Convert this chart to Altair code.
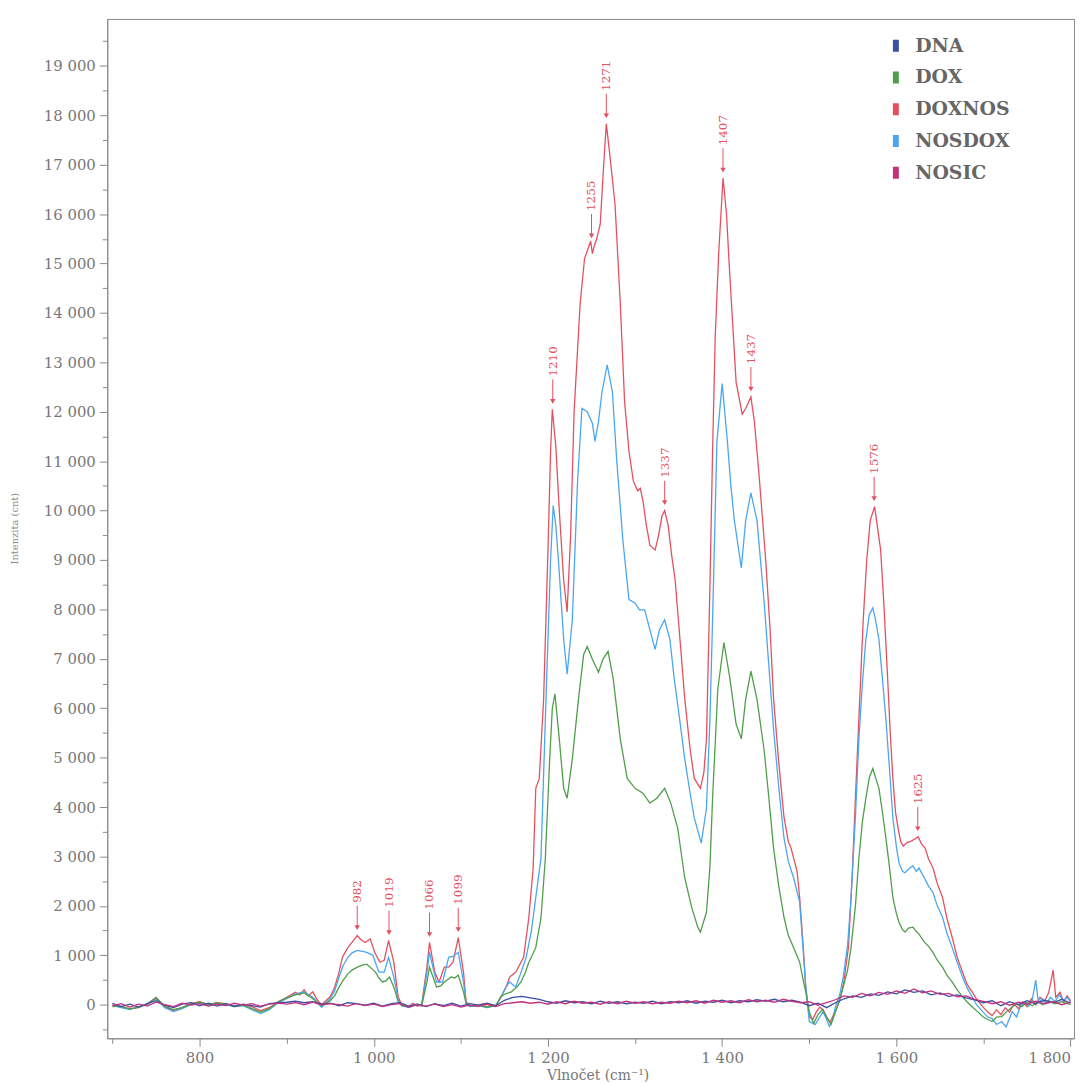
import altair as alt
import pandas as pd

# ---------------- data ----------------
DOXNOS = [(700,0),(710,-50),(720,-80),(730,-60),(740,20),(750,150),(760,-40),(770,-120),(780,-60),(790,20),(800,60),(810,0),(820,40),(830,20),(840,-20),(850,0),(860,-40),(870,-120),(880,-60),(890,60),(900,150),(910,250),(915,200),(920,300),(925,180),(930,260),(935,100),(940,0),(945,80),
(950,160),(955,350),(960,650),(964,960),(970,1150),(975,1260),(981,1400),(985,1320),(990,1260),(996,1330),(1001,1060),(1007,860),(1012,900),(1017,1300),(1023,860),(1028,160),(1032,0),(1040,-40),(1045,30),(1050,-30),(1055,0),(1061,760),(1064,1260),(1070,660),(1075,460),(1081,760),(1086,760),(1091,860),(1097,1360),(1103,660),(1106,60),(1110,-20),(1120,-40),(1125,20),(1130,-50),(1135,0),(1140,-30),(1146,160),(1152,360),(1156,560),(1163,660),(1172,960),(1178,1760),(1183,2760),(1186,4380),(1190,4580),(1195,6180),(1200,9200),(1203,11200),(1205,12050),(1209,11300),(1213,10000),(1218,8600),(1222,7950),(1226,9500),(1230,12000),(1237,14200),(1242,15100),(1246,15300),(1249,15450),(1251,15200),(1253,15350),(1256,15500),(1260,15800),(1264,17000),(1267,17830),(1271,17200),(1277,16200),(1283,14200),(1288,12200),(1293,11200),(1298,10600),(1303,10400),(1306,10450),(1309,10200),(1313,9700),(1317,9300),(1323,9200),(1327,9500),(1331,9900),(1334,10000),(1338,9700),(1342,9100),(1346,8600),(1352,7300),(1357,6200),(1363,5200),(1368,4580),(1375,4380),(1379,4700),(1382,5380),(1386,8500),(1389,11200),(1392,13500),(1396,15200),(1401,16730),(1405,16000),(1408,15000),(1412,13800),(1416,12600),(1423,11950),(1428,12100),(1433,12300),(1437,11800),(1442,10800),(1446,9900),(1450,9000),(1455,7600),(1459,6200),(1465,4900),(1471,3800),(1476,3300),(1479,3170),(1482,2970),(1486,2700),(1489,2170),(1493,1200),(1496,360),(1500,-240),(1504,-300),(1508,-150),(1512,-50),(1516,-100),(1520,-250),(1524,-350),(1528,-200),(1532,-50),(1536,150),(1540,500),(1545,1160),(1549,2500),(1553,4180),(1557,5800),(1562,7800),(1566,9000),(1570,9800),(1575,10080),(1578,9700),(1582,9200),(1586,8000),(1590,6600),(1593,5500),(1596,4580),(1599,3900),(1602,3570),(1605,3300),(1608,3210),(1612,3280),(1617,3310),(1621,3350),(1625,3400),(1629,3250),(1633,3170),(1637,2950),(1642,2770),(1647,2450),(1653,2170),(1658,1750),(1664,1370),(1670,950),(1676,660),(1681,420),(1687,260),(1692,120),(1699,-40),(1705,-150),(1710,-220),(1715,-100),(1720,-200),(1725,-60),(1730,-150),(1735,20),(1740,-80),(1745,60),(1750,-40),(1755,120),(1760,0),(1765,150),(1770,60),(1775,250),(1780,700),(1783,150),(1788,250),(1792,50),(1796,180),(1800,80)]

NOSDOX = [(700,-20),(710,-60),(720,-100),(730,-40),(740,0),(750,120),(760,-60),(770,-140),(780,-80),(790,0),(800,40),(810,-20),(820,20),(830,0),(840,-40),(850,-20),(860,-100),(870,-180),(880,-100),(890,40),(900,120),(910,220),(920,260),(930,150),(940,-50),(945,40),(950,120),(955,280),(960,550),(965,800),(970,950),(975,1050),(981,1100),(987,1080),(992,1060),(999,1000),(1003,800),(1006,660),(1012,660),(1017,960),(1023,560),(1028,100),(1032,-20),(1040,-60),(1050,0),(1055,-30),(1061,650),(1064,1060),(1068,750),(1072,460),(1079,460),(1086,960),(1091,980),(1097,1060),(1103,460),(1106,40),(1110,-40),(1120,-20),(1130,-60),(1140,-20),(1146,150),(1152,360),(1156,460),(1160,400),(1163,360),(1170,700),(1175,960),(1181,1500),(1186,2170),(1192,2970),(1197,5780),(1203,9000),(1206,10100),(1209,9700),(1212,9000),(1218,7400),(1222,6690),(1228,7800),(1234,10600),(1239,12070),(1245,12000),(1251,11770),(1254,11400),(1258,11800),(1262,12400),(1268,12950),(1274,12400),(1279,11000),(1286,9400),(1293,8200),(1300,8130),(1305,7990),(1311,7990),(1317,7590),(1323,7190),(1328,7590),(1334,7790),(1340,7390),(1345,6590),(1351,5800),(1357,4980),(1363,4300),(1368,3780),(1376,3270),(1382,3980),(1386,5800),(1389,7790),(1394,11400),(1400,12570),(1406,11400),(1410,10500),(1414,9800),(1422,8840),(1427,9800),(1433,10360),(1440,9800),(1448,8190),(1453,7000),(1459,5580),(1465,4400),(1471,3370),(1476,2900),(1482,2570),(1489,2070),(1493,1100),(1496,360),(1500,-340),(1507,-400),(1512,-250),(1516,-140),(1520,-300),(1523,-440),(1527,-300),(1530,-40),(1535,200),(1539,560),(1544,1200),(1548,2170),(1553,3800),(1557,5380),(1561,6500),(1565,7390),(1569,7900),(1573,8030),(1576,7800),(1580,7390),(1584,6600),(1588,5780),(1592,4800),(1596,3780),(1600,3200),(1603,2870),(1607,2700),(1610,2670),(1615,2760),(1619,2810),(1623,2700),(1626,2770),(1632,2570),(1637,2400),(1642,2270),(1647,2000),(1653,1770),(1658,1450),(1664,1160),(1670,850),(1676,560),(1681,350),(1687,160),(1692,0),(1699,-140),(1705,-250),(1710,-280),(1715,-400),(1721,-340),(1726,-450),(1733,-140),(1738,-250),(1742,-50),(1748,50),(1752,-30),(1756,100),(1760,500),(1763,50),(1768,120),(1772,20),(1777,150),(1782,60),(1787,200),(1792,80),(1796,150),(1800,50)]

DOX = [(700,-40),(710,-30),(720,-90),(730,-50),(740,10),(750,140),(760,-30),(770,-100),(780,-60),(790,10),(800,50),(810,10),(820,30),(830,10),(840,-30),(850,-10),(860,-80),(870,-150),(880,-80),(890,50),(900,140),(910,200),(920,240),(930,120),(940,-20),(945,30),(950,80),(955,180),(960,350),(965,500),(970,620),(975,700),(981,760),(987,800),(992,820),(997,740),(1002,660),(1006,540),(1010,460),(1014,480),(1018,560),(1023,360),(1028,60),(1032,-20),(1040,-40),(1050,10),(1055,-20),(1061,450),(1064,760),(1068,560),(1072,360),(1077,380),(1081,460),(1089,560),(1093,540),(1097,600),(1103,260),(1106,20),(1110,-30),(1120,-10),(1130,-50),(1140,-20),(1146,160),(1151,220),(1158,260),(1164,350),(1169,460),(1174,650),(1178,860),(1182,1000),(1186,1160),(1192,1760),(1197,2970),(1202,4980),(1205,6000),(1208,6290),(1213,5380),(1218,4380),(1222,4180),(1228,4980),(1235,6180),(1241,7090),(1245,7250),(1251,6990),(1258,6730),(1263,6990),(1269,7150),(1275,6590),(1283,5380),(1291,4580),(1300,4380),(1309,4280),(1317,4080),(1325,4180),(1334,4380),(1341,4080),(1349,3570),(1357,2570),(1365,1970),(1372,1570),(1375,1470),(1382,1870),(1386,2800),(1389,4180),(1395,6390),(1402,7330),(1409,6590),(1416,5680),(1422,5380),(1427,6180),(1433,6750),(1440,6180),(1448,5180),(1453,4300),(1459,3170),(1465,2400),(1471,1770),(1476,1400),(1482,1160),(1489,860),(1493,500),(1496,260),(1500,-140),(1505,-380),(1510,-200),(1515,-100),(1520,-250),(1525,-400),(1530,-150),(1535,100),(1539,360),(1544,700),(1548,1160),(1553,2000),(1557,2970),(1561,3700),(1565,4180),(1569,4600),(1573,4780),(1576,4600),(1580,4380),(1584,3900),(1588,3370),(1592,2800),(1596,2170),(1600,1850),(1603,1670),(1607,1520),(1610,1470),(1614,1550),(1619,1570),(1623,1480),(1626,1430),(1632,1270),(1637,1180),(1642,1060),(1647,900),(1653,760),(1658,600),(1664,460),(1670,300),(1676,160),(1681,60),(1687,-40),(1692,-120),(1699,-240),(1705,-300),(1710,-340),(1715,-250),(1721,-240),(1726,-150),(1732,-60),(1738,20),(1744,-40),(1750,50),(1756,-20),(1762,60),(1768,0),(1775,80),(1782,20),(1790,60),(1800,0)]

BASE_WN = list(range(700, 1801, 10))
DNA = [30,-40,10,-50,20,80,-10,-60,10,40,
       -20,30,-30,20,-40,10,-20,-50,20,40,
       50,70,40,60,10,30,-20,40,20,-10,
       30,-30,20,40,-30,10,-40,20,-20,30,
       -30,20,-10,30,-20,90,150,170,140,110,
       60,30,80,40,60,20,70,30,60,20,
       50,30,70,20,60,40,80,30,70,50,
       90,40,80,60,100,70,110,60,90,50,
       -20,30,-60,40,120,180,150,220,190,260,
       220,300,250,280,200,240,170,200,140,100,
       40,80,-20,60,0,80,20,90,40,110,30]
NOSIC = [-20,20,-50,10,-30,50,0,-40,30,-10,
         20,-30,10,-20,30,-10,20,-30,10,30,
         10,40,0,50,-10,20,0,-30,20,-20,
         10,-40,0,20,-50,0,-30,10,-40,0,
         -50,-10,-30,10,-40,20,40,60,30,50,
         10,60,20,70,30,50,10,60,20,70,
         30,60,20,50,30,70,40,80,30,90,
         50,80,40,100,60,90,50,110,70,40,
         60,-10,40,100,180,150,230,180,250,210,
         280,230,320,240,280,210,230,160,180,110,
         70,20,60,-10,50,10,70,20,60,0,50]

SERIES = ["DNA", "DOX", "DOXNOS", "NOSDOX", "NOSIC"]
COLORS = ["#3b4ea3", "#4f9e4a", "#e4505f", "#4aa6ee", "#c4327e"]

PEAK_LABELS = ["982", "1019", "1066", "1099", "1210", "1255", "1271", "1337", "1407", "1437", "1576", "1625"]
PEAK_WN = [981, 1017.5, 1064, 1097, 1205.5, 1250, 1267, 1334, 1401, 1433, 1574.5, 1624.6]
PEAK_VAL = [1400, 1300, 1260, 1360, 12050, 15400, 17830, 10000, 16730, 12300, 10080, 3400]

# ---------------- tables ----------------
rows = []
for name, pts in [("DOXNOS", DOXNOS), ("NOSDOX", NOSDOX), ("DOX", DOX)]:
    for w, v in pts:
        rows.append({"serie": name, "wn": w, "intensity": v})
for name, vals in [("DNA", DNA), ("NOSIC", NOSIC)]:
    for w, v in zip(BASE_WN, vals):
        rows.append({"serie": name, "wn": w, "intensity": v})
df = pd.DataFrame(rows)

ann = pd.DataFrame({"label": PEAK_LABELS, "wn": PEAK_WN, "intensity": PEAK_VAL})

FONT = "DejaVu Serif"
RED = "#e4505f"

x_axis = alt.Axis(
    values=list(range(700, 1801, 100)),
    labelExpr="datum.value % 200 === 0 ? replace(format(datum.value, ','), ',', ' ') : ''",
    tickSize={"condition": {"test": "datum.value % 200 === 0", "value": 8}, "value": 5},
    labelAlign={"condition": {"test": "datum.value >= 1800", "value": "right"}, "value": "center"},
    title="Vlnočet (cm⁻¹)",
    titleX=494, titleY=37, titleBaseline="middle",
    titleFontSize=14, titleFontWeight="normal", titleFont=FONT, titleColor="#777",
    labelFont=FONT, labelFontSize=15, labelColor="#777", labelPadding=4,
    grid=False, domainColor="#8a8a8a", tickColor="#8a8a8a",
)
y_axis = alt.Axis(
    values=list(range(-500, 19501, 500)),
    labelExpr="datum.value % 1000 === 0 ? replace(format(datum.value, ','), ',', ' ') : ''",
    tickSize={"condition": {"test": "datum.value % 1000 === 0", "value": 8}, "value": 5},
    title="Intenzita (cnt)",
    titleX=-88, titleY=513, titleFontSize=10, titleFontWeight="normal", titleFont=FONT,
    titleColor="#888",
    labelFont=FONT, labelFontSize=15, labelColor="#777", labelPadding=4,
    grid=False, domainColor="#8a8a8a", tickColor="#8a8a8a",
)

xs = alt.Scale(domain=[694, 1804], nice=False, zero=False)
ys = alt.Scale(domain=[-680, 19950], nice=False, zero=False)

X = alt.X("wn:Q", scale=xs, axis=x_axis)
Y = alt.Y("intensity:Q", scale=ys, axis=y_axis)

lines = alt.Chart(df).mark_line(strokeWidth=1.3, clip=True).encode(
    x=X, y=Y,
    color=alt.Color(
        "serie:N",
        scale=alt.Scale(domain=SERIES, range=COLORS),
        legend=alt.Legend(
            title=None, orient="none", legendX=785, legendY=17,
            symbolType="M0,-1L0,1", symbolSize=144, symbolStrokeWidth=6,
            labelFont=FONT, labelFontWeight="bold", labelFontSize=19, labelColor="#666",
            labelOffset=10, rowPadding=12, padding=0, clipHeight=20,
        ),
    ),
)

arrows = alt.Chart(ann).mark_rule(color=RED, strokeWidth=1, yOffset=-30, y2Offset=-8).encode(
    x=X, y=Y, y2=alt.Y2("intensity:Q")
)
heads = alt.Chart(ann).mark_point(shape="triangle-down", filled=True, size=30, color=RED,
                                  opacity=1, yOffset=-8).encode(x=X, y=Y)
texts = alt.Chart(ann).mark_text(angle=270, align="left", baseline="middle", yOffset=-33,
                                 fontSize=12, font=FONT, color=RED).encode(
    x=X, y=Y, text="label:N"
)

chart = alt.layer(lines, arrows, heads, texts).properties(
    width=974, height=1027,
    autosize=alt.AutoSizeParams(type="none"),
    padding={"left": 100, "top": 7, "right": 4, "bottom": 40},
    background="white",
).configure_view(stroke="#8a8a8a", strokeWidth=1)

chart.save("out.html", embed_options={"renderer": "svg", "actions": False})
